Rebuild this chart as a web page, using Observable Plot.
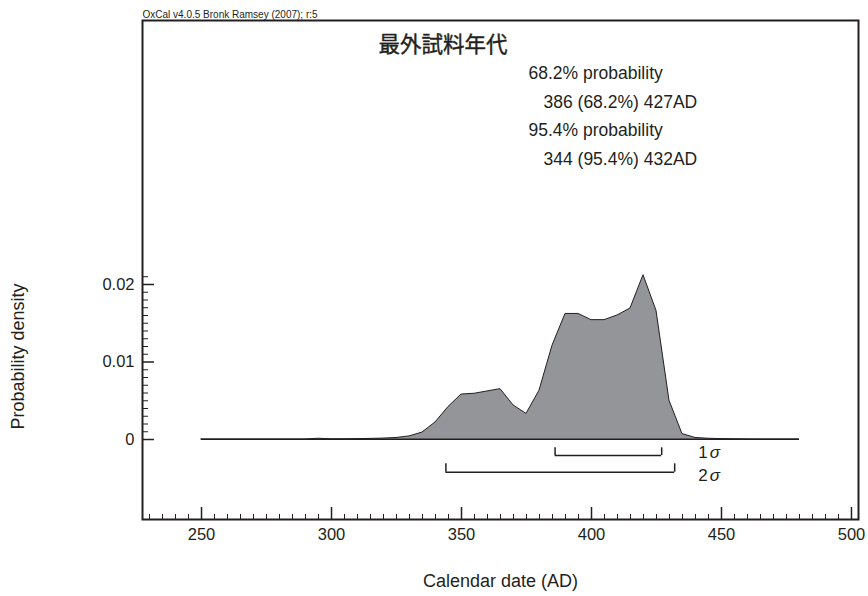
<!DOCTYPE html>
<html>
<head>
<meta charset="utf-8">
<script src="https://cdn.jsdelivr.net/npm/d3@7"></script>
<script src="https://cdn.jsdelivr.net/npm/@observablehq/plot@0.6"></script>
<style>
  html, body { margin: 0; padding: 0; background: #fff; }
  #chart svg { display: block; }
</style>
</head>
<body>
<div id="chart"></div>
<script>
// ---- data ----
const years = [250,255,260,265,270,275,280,285,290,295,300,305,310,315,320,325,330,335,340,345,350,355,360,365,370,375,380,385,390,395,400,405,410,415,420,425,430,435,440,445,450,455,460,465,470,475,480];
const density = [0,0,0,0,0,0,0,0,0,0.0001,0.00003,0.00003,0.00005,0.00008,0.00012,0.0002,0.0004,0.0009,0.0022,0.0042,0.0058,0.0059,0.0062,0.0065,0.0044,0.0033,0.0063,0.0121,0.0162,0.0162,0.0154,0.0154,0.0160,0.0169,0.0212,0.0166,0.0050,0.0007,0.0002,0.0001,0.00005,0.00003,0.00001,0,0,0,0];
const rangeLabels = ["1", "2"];
const rangeLo = [386, 344];
const rangeHi = [427, 432];
const sigma = "σ";
const xMajorTicks = [250,300,350,400,450,500];
const xMinorTicks = d3.range(230, 501, 5).filter(v => v % 50 !== 0);
const yMajorTicks = [0, 0.01, 0.02];
const yTickLabels = ["0", "0.01", "0.02"];
const yMinorTicks = d3.range(1, 22).filter(v => v % 10 !== 0).map(v => v / 1000);
const header = "OxCal v4.0.5 Bronk Ramsey (2007); r:5";
const title = "最外試料年代";
const probLines = ["68.2% probability", "386 (68.2%) 427AD", "95.4% probability", "344 (95.4%) 432AD"];
const xLabel = "Calendar date (AD)";
const yLabel = "Probability density";

// ---- layout ----
const W = 868, H = 596;
const mTop = 20, mRight = 10, mBottom = 77, mLeft = 142;
const innerH = H - mTop - mBottom, innerW = W - mLeft - mRight;
const xDomain = [227.3, 502.7];
const yDomain = [-0.01032, 0.05406];
const k = (yDomain[1] - yDomain[0]) / innerH; // data units per pixel

const curve = years.map((y, i) => ({year: y, p: density[i]}));
const ranges = rangeLabels.map((l, i) => ({label: l, lo: rangeLo[i], hi: rangeHi[i], row: i}));
const rowY = [-16 * k, -32.7 * k];
const rowTop = [-8.3 * k, -24.3 * k];
const labelDy = [13, 36];
const ends = ranges.flatMap(r => [{x: r.lo, row: r.row}, {x: r.hi, row: r.row}]);
const labelX = d3.max(rangeHi);

const font = "'Liberation Sans', Arial, Helvetica, sans-serif";
const ink = "#231f20";

const rangeLabelMarks = ranges.flatMap(r => [
  Plot.text([r.label], {x: labelX, y: 0, dx: 33, dy: labelDy[r.row], text: d => d, textAnchor: "end", lineAnchor: "middle", fontSize: 17, fill: ink}),
  Plot.text([sigma], {x: labelX, y: 0, dx: 35, dy: labelDy[r.row], text: d => d, textAnchor: "start", lineAnchor: "middle", fontSize: 17, fontStyle: "italic", fill: ink})
]);
const probDx = [386, 401, 386, 401];
const probDy = [52.7, 81.7, 110, 138.5];
const probMarks = probLines.map((t, i) =>
  Plot.text([t], {frameAnchor: "top-left", dx: probDx[i], dy: probDy[i], text: d => d, textAnchor: "start", lineAnchor: "middle", fontSize: 17.5, fill: ink})
);

const chart = Plot.plot({
  width: W, height: H,
  marginTop: mTop, marginRight: mRight, marginBottom: mBottom, marginLeft: mLeft,
  style: {fontFamily: font, color: ink, background: "#fff"},
  x: {domain: xDomain, axis: null},
  y: {domain: yDomain, axis: null},
  marks: [
    // baseline
    Plot.ruleY([0], {x1: years[0], x2: years[years.length - 1], stroke: ink, strokeWidth: 1}),
    Plot.areaY(curve, {x: "year", y: "p", fill: "#939598", stroke: ink, strokeWidth: 1}),
    // ranges
    Plot.ruleY(ranges, {x1: "lo", x2: "hi", y: d => rowY[d.row], stroke: ink, strokeWidth: 1.5}),
    Plot.ruleX(ends, {x: "x", y1: d => rowY[d.row], y2: d => rowTop[d.row], stroke: ink, strokeWidth: 1.5}),
    ...rangeLabelMarks,
    // x ticks
    Plot.ruleX(xMinorTicks, {x: d => d, insetTop: innerH - 5, stroke: ink, strokeWidth: 1}),
    Plot.ruleX(xMajorTicks, {x: d => d, insetTop: innerH - 12, stroke: ink, strokeWidth: 1.5}),
    Plot.text(xMajorTicks, {x: d => d, frameAnchor: "bottom", dy: 20, text: d => String(d), fontSize: 16.5, fill: ink}),
    // y ticks
    Plot.ruleY(yMinorTicks, {y: d => d, insetRight: innerW - 6, stroke: ink, strokeWidth: 1}),
    Plot.ruleY(yMajorTicks, {y: d => d, insetRight: innerW - 12, stroke: ink, strokeWidth: 1.5}),
    Plot.text(yMajorTicks, {y: d => d, frameAnchor: "left", dx: -8, textAnchor: "end", lineAnchor: "middle", text: (d, i) => yTickLabels[i], fontSize: 16.5, fill: ink}),
    // frame
    Plot.frame({stroke: ink, strokeWidth: 2}),
    // texts
    Plot.text([header], {frameAnchor: "top-left", dy: -3, lineAnchor: "bottom", textAnchor: "start", fontSize: 10, fill: ink}),
    Plot.text([title], {frameAnchor: "top-left", dx: 236, dy: 25, textAnchor: "start", lineAnchor: "middle", fontSize: 21.5, fontFamily: "'Noto Sans CJK JP', sans-serif", fill: ink, stroke: ink, strokeWidth: 0.4}),
    ...probMarks,
    Plot.text([xLabel], {frameAnchor: "bottom", dy: 62, lineAnchor: "middle", textAnchor: "middle", fontSize: 18, fill: ink}),
    Plot.text([yLabel], {frameAnchor: "left", dx: -124, dy: 86.5, rotate: -90, textAnchor: "middle", lineAnchor: "middle", fontSize: 18, fill: ink})
  ]
});
document.getElementById("chart").appendChild(chart);
</script>
</body>
</html>
